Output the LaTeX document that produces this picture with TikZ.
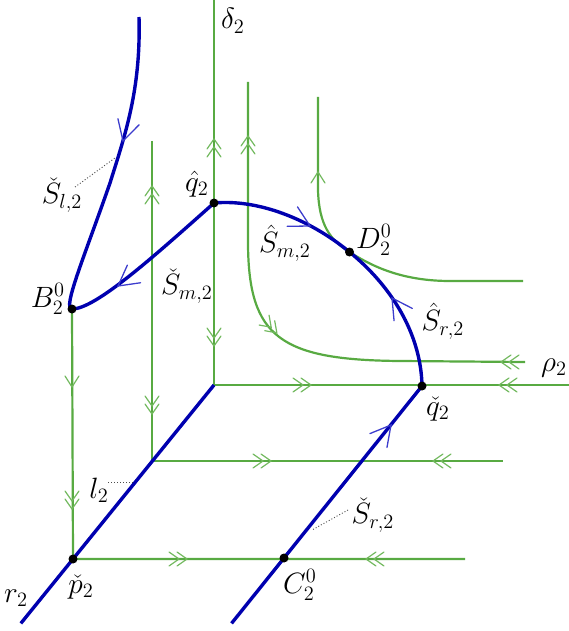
\documentclass[tikz,border=0pt]{standalone}
\usetikzlibrary{calc}
\definecolor{gr}{RGB}{88,170,66}
\definecolor{grl}{RGB}{115,185,95}
\definecolor{bl}{RGB}{0,0,175}
\definecolor{bla}{RGB}{60,60,205}
\tikzset{
 gline/.style={gr,line width=2.2pt},
 bline/.style={bl,line width=3.4pt},
 dot/.style={circle,fill=black,inner sep=0pt,minimum size=9pt},
 lab/.style={font=\fontsize{17.28}{20}\selectfont,scale=1.7,inner sep=0pt},
 leader/.style={black!70,line width=0.9pt,dash pattern=on 1pt off 2pt},
 gs/.pic={\draw[grl,line width=1.2pt,line cap=round] (-11,-7)--(0,0)--(-11,7);},
 gd/.pic={\draw[grl,line width=1.2pt,line cap=round] (-6,-7)--(4,0)--(-6,7) (-14,-7)--(-4,0)--(-14,7);},
 bs/.pic={\draw[bla,line width=1.3pt,line cap=round] (-20,-11)--(0,0)--(-20,11);},
}
\begin{document}
\begin{tikzpicture}[x=1pt,y=-1pt]
\useasboundingbox (0,0) rectangle (569,631);
% key points
\coordinate (O) at (214,385);
\coordinate (dtop) at (214,0);
\coordinate (rend) at (569,385);
\coordinate (qh) at (214,203);
\coordinate (B) at (72,309);
\coordinate (D) at (349.5,252);
\coordinate (qc) at (422,386);
\coordinate (pc) at (73,559);
\coordinate (C) at (284,558);
\coordinate (l2t) at (152,141);
\coordinate (l2b) at (152,461);
\coordinate (l2r) at (503,461);
\coordinate (pr) at (465,559);
\coordinate (c1t) at (248,82);
\coordinate (c1a) at (248,245);
\coordinate (c1b) at (400,361);
\coordinate (c1e) at (525,362);
\coordinate (c2t) at (318,97);
\coordinate (c2a) at (318,190);
\coordinate (c2b) at (450,281);
\coordinate (c2e) at (523,281);
\coordinate (slt) at (139,17);
\coordinate (slm) at (110,183);
% green trajectories
\draw[gline] (O) -- (dtop);
\draw[gline] (O) -- (rend);
\draw[gline] (l2t) -- (l2b) -- (l2r);
\draw[gline] (B) -- (pc) -- (pr);
\draw[gline] (c1t) -- (c1a) .. controls (249,337) and (280,360) .. (c1b) -- (c1e);
\draw[gline] (c2t) -- (c2a) .. controls (319,225) and (330,240) .. (D) .. controls (370,265) and (400,281) .. (c2b) -- (c2e);
% green arrows
\pic[rotate=90] at (214,143) {gd};
\pic[rotate=-90] at (214,342) {gd};
\pic[rotate=90] at (152,190) {gd};
\pic[rotate=-90] at (152,410) {gd};
\pic[rotate=90] at (248,140) {gd};
\pic[rotate=90] at (318,172) {gs};
\pic[rotate=-90] at (72,387) {gs};
\pic[rotate=-90] at (72,505) {gd};
\pic at (307,385) {gd};
\pic[rotate=180] at (503,385) {gd};
\pic[rotate=180] at (505,362) {gd};
\pic at (267,461) {gd};
\pic[rotate=180] at (437,461) {gd};
\pic at (183,559) {gd};
\pic[rotate=180] at (370,559) {gd};
\pic[rotate=-45] at (274,330) {gd};
% blue curves
\draw[bline] (O) -- ($(O)!1.37!(pc)$) coordinate (rb);
\draw[bline] (qc) -- ($(qc)!1.38!(C)$) coordinate (srb);
\draw[bline] (qh) .. controls (257,199) and (308.5,218.25) .. (D) .. controls (390.5,285.25) and (421,333) .. (qc);
\draw[bline] (slt) .. controls (141,90) and (125,135) .. (slm) .. controls (85,255) and (62,309) .. (B) .. controls (95,309) and (150,260) .. (qh);
% blue arrows
\pic[rotate=-106] at (123,141) {bs};
\pic[rotate=-143] at (118,286) {bs};
\pic[rotate=-28] at (310,226) {bs};
\pic[rotate=124] at (392,298) {bs};
\pic[rotate=51] at (391,425) {bs};
% dots
\node[dot] (nqh) at (qh) {};
\node[dot] (nB) at (B) {};
\node[dot] (nD) at (D) {};
\node[dot] (nqc) at (qc) {};
\node[dot] (npc) at (pc) {};
\node[dot] (nC) at (C) {};
% labels
\node[lab] (tdelta) at (233,21) {$\delta_2$};
\node[lab] (trho) at (554,368) {$\rho_2$};
\node[lab] (tSl) at (62,195) {$\check{S}_{l,2}$};
\node[lab] (tqh) at (197,184) {$\hat{q}_2$};
\node[lab] (tSm) at (187,286) {$\check{S}_{m,2}$};
\node[lab] (tShm) at (285,243) {$\hat{S}_{m,2}$};
\node[lab] (tD) at (374,240) {$D_2^0$};
\node[lab] (tShr) at (443,321) {$\hat{S}_{r,2}$};
\node[lab] (tB) at (48,299) {$B_2^0$};
\node[lab] (tl) at (99,490) {$l_2$};
\node[lab] (tpc) at (81,587) {$\check{p}_2$};
\node[lab] (tr) at (16,598) {$r_2$};
\node[lab] (tC) at (300,585) {$C_2^0$};
\node[lab] (tSr) at (373,515) {$\check{S}_{r,2}$};
\node[lab] (tqc) at (438,409) {$\check{q}_2$};
% leaders
\coordinate (ls0) at (75,187);
\coordinate (ls1) at (115,158);
\coordinate (ll0) at (108,482);
\coordinate (ll1) at (134,482);
\coordinate (lr0) at (348,510);
\coordinate (lr1) at (312,530);
\draw[leader] (ls0) -- (ls1);
\draw[leader] (ll0) -- (ll1);
\draw[leader] (lr0) -- (lr1);
\end{tikzpicture}
\end{document}
